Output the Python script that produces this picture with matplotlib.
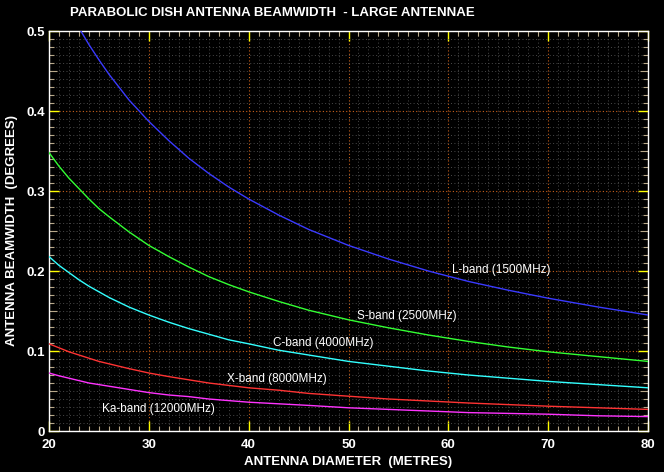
import matplotlib
matplotlib.use("Agg")
import matplotlib.pyplot as plt
from matplotlib.ticker import MultipleLocator

# Antenna diameter (m)
diameter = [20, 21, 22, 23, 24, 25, 26, 28, 30, 32, 34, 36, 38, 40, 43, 46, 50, 54, 58, 62, 66, 70, 75, 80]
# Beamwidth (degrees)
l_band = [0.580, 0.552, 0.527, 0.504, 0.483, 0.464, 0.446, 0.414, 0.387, 0.363, 0.341, 0.322,
          0.305, 0.290, 0.270, 0.252, 0.232, 0.215, 0.200, 0.187, 0.176, 0.166, 0.155, 0.145]
s_band = [0.348, 0.331, 0.316, 0.303, 0.290, 0.278, 0.268, 0.249, 0.232, 0.218, 0.205, 0.193,
          0.183, 0.174, 0.162, 0.151, 0.139, 0.129, 0.120, 0.112, 0.105, 0.099, 0.093, 0.087]
c_band = [0.218, 0.207, 0.198, 0.189, 0.181, 0.174, 0.167, 0.155, 0.145, 0.136, 0.128, 0.121,
          0.114, 0.109, 0.101, 0.095, 0.087, 0.081, 0.075, 0.070, 0.066, 0.062, 0.058, 0.054]
x_band = [0.109, 0.104, 0.099, 0.095, 0.091, 0.087, 0.084, 0.078, 0.0725, 0.068, 0.064, 0.060,
          0.057, 0.054, 0.051, 0.047, 0.0435, 0.040, 0.0375, 0.035, 0.033, 0.031, 0.029, 0.027]
ka_band = [0.0725, 0.069, 0.066, 0.063, 0.060, 0.058, 0.056, 0.052, 0.048, 0.045, 0.043, 0.040,
           0.038, 0.036, 0.034, 0.032, 0.029, 0.027, 0.025, 0.023, 0.022, 0.021, 0.019, 0.018]

series_names = ["L-band (1500MHz)", "S-band (2500MHz)", "C-band (4000MHz)",
                "X-band (8000MHz)", "Ka-band (12000MHz)"]
series_colors = ["#3a3aff", "#33ff33", "#33ffff", "#ff3333", "#ff33ff"]
label_pos = [(60.4, 0.201), (50.9, 0.144), (42.4, 0.110), (37.8, 0.065), (25.3, 0.0275)]

x_ticks = [20, 30, 40, 50, 60, 70, 80]
y_ticks = [0, 0.1, 0.2, 0.3, 0.4, 0.5]
y_tick_labels = ["0", "0.1", "0.2", "0.3", "0.4", "0.5"]

FONT = ["Liberation Sans", "DejaVu Sans"]

fig = plt.figure(figsize=(6.64, 4.72), dpi=100, facecolor="black")
ax = fig.add_axes([49/664, 41/472, 599/664, 400/472])
ax.set_facecolor("black")

for vals, col in zip([l_band, s_band, c_band, x_band, ka_band], series_colors):
    ax.plot(diameter, vals, color=col, lw=1.0, clip_on=True, zorder=3)

for name, (lx, ly) in zip(series_names, label_pos):
    ax.text(lx, ly, name, color="white", fontsize=8.5, ha="left", va="center",
            family=FONT, zorder=4)

ax.set_xlim(20, 80)
ax.set_ylim(0, 0.5)
ax.set_xticks(x_ticks)
ax.set_yticks(y_ticks)
ax.set_yticklabels(y_tick_labels)
ax.xaxis.set_minor_locator(MultipleLocator(1))
ax.yaxis.set_minor_locator(MultipleLocator(0.01))

ax.grid(which="minor", color="#4a4a4a", linestyle=(0, (1, 2.5)), lw=0.7)
ax.grid(which="major", color="#c8601a", linestyle=(0, (1, 2)), lw=0.8)
ax.set_axisbelow(True)

for s in ax.spines.values():
    s.set_color("white")
    s.set_linewidth(1.0)

ax.tick_params(which="major", direction="in", length=7, color="yellow", width=1,
               top=True, right=True, labelcolor="white", labelsize=9.5, pad=3)
ax.tick_params(axis="x", which="major", pad=6)
ax.tick_params(which="minor", direction="in", length=3.5, color="#b8a88a", width=0.8,
               top=True, right=True)
for lab in ax.get_xticklabels() + ax.get_yticklabels():
    lab.set_fontweight("bold")
    lab.set_family(FONT)

# half-way ticks on the y axis in white
ylocs = ax.yaxis.get_minorticklocs()
for loc, tk in zip(ylocs, ax.yaxis.get_minor_ticks(len(ylocs))):
    if abs((loc * 100) % 10 - 5) < 1e-6:
        for ln in (tk.tick1line, tk.tick2line):
            ln.set_color("white")
            ln.set_markersize(6)

ax.set_xlabel("ANTENNA DIAMETER  (METRES)", color="white", fontsize=9.5,
              fontweight="bold", labelpad=3, family=FONT)
ax.set_ylabel("ANTENNA BEAMWIDTH  (DEGREES)", color="white", fontsize=9.5,
              fontweight="bold", labelpad=6, family=FONT)
fig.text(70/664, 1 - 13/472, "PARABOLIC DISH ANTENNA BEAMWIDTH  - LARGE ANTENNAE",
         color="white", fontsize=9.5, fontweight="bold", ha="left", va="center",
         family=FONT)

fig.savefig("out.png", dpi=100, facecolor="black")
